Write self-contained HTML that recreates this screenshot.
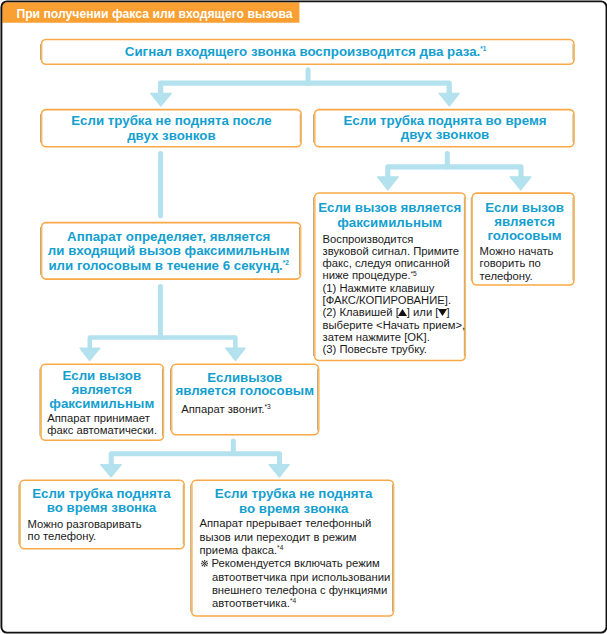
<!DOCTYPE html>
<html><head><meta charset="utf-8">
<style>
html,body{margin:0;padding:0;width:607px;height:634px;overflow:hidden;background:#fff}
body{position:relative;font-family:"Liberation Sans",sans-serif}
#main{position:absolute;left:0;top:0}
.t{position:absolute;white-space:nowrap}
.hd{position:absolute;left:16.4px;top:6.6px;color:#fff;font-weight:bold;font-size:12.2px;line-height:14px;white-space:nowrap}
.h{color:#14a0cf;font-weight:bold;font-size:13.3px;text-align:center}
.b{color:#1a1a1a;font-size:11.25px}
.s{font-size:6.6px;position:relative;top:-3.8px;line-height:0}
.tri{display:inline-block;width:8px;height:7px;position:relative}
.tri svg{position:absolute;left:-0.5px;top:0;width:9px;height:7px}
.ind{padding-left:12.4px}
.km{display:inline-block;width:7.2px;height:7px;margin-left:1.2px;margin-right:0.4px;vertical-align:0.5px}
.hs{font-size:6.5px;position:relative;top:-4.5px;line-height:0}
</style></head><body>
<svg id="main" width="607" height="634" viewBox="0 0 607 634">
<path d="M2.2 7 Q2.2 2.2 7 2.2 L299.4 2.2 L299.4 22.7 L2.2 22.7 Z" fill="#fa9f32"/>
<rect x="1.4" y="1.4" width="605.1" height="631.2" rx="5.5" fill="none" stroke="#111" stroke-width="1.9"/>
<g fill="none" stroke="#f9a847" stroke-width="1.55">
<rect x="41.5" y="39.5" width="532.5" height="24.8" rx="4.5"/>
<rect x="41.5" y="109.6" width="259.7" height="37.2" rx="4.5"/>
<rect x="314.6" y="109.6" width="259.4" height="37.2" rx="4.5"/>
<rect x="41.5" y="222.6" width="259" height="56.5" rx="4.5"/>
<rect x="314.6" y="193" width="150.7" height="167.5" rx="4.5"/>
<rect x="472.2" y="193.1" width="101.8" height="91.9" rx="4.5"/>
<rect x="40.9" y="364.2" width="122.5" height="76" rx="4.5"/>
<rect x="171.5" y="364.2" width="147.1" height="70.6" rx="4.5"/>
<rect x="19.9" y="480.2" width="164.3" height="68.5" rx="4.5"/>
<rect x="191.7" y="480.2" width="201.8" height="135.8" rx="4.5"/>
</g>
<g fill="none" stroke="#a59484" stroke-width="0.9"><path d="M40.55 44.0 V59.8"/><path d="M573.05 44.0 V59.8"/><path d="M40.55 114.1 V142.3"/><path d="M300.25 114.1 V142.3"/><path d="M313.65 114.1 V142.3"/><path d="M573.05 114.1 V142.3"/><path d="M40.55 227.1 V274.6"/><path d="M299.55 227.1 V274.6"/><path d="M313.65 197.5 V356.0"/><path d="M464.35 197.5 V356.0"/><path d="M471.25 197.6 V280.5"/><path d="M573.05 197.6 V280.5"/><path d="M39.95 368.7 V435.7"/><path d="M162.45 368.7 V435.7"/><path d="M170.55 368.7 V430.3"/><path d="M317.65 368.7 V430.3"/><path d="M18.95 484.7 V544.2"/><path d="M183.25 484.7 V544.2"/><path d="M190.75 484.7 V611.5"/><path d="M392.55 484.7 V611.5"/></g>
<g fill="none" stroke="#fbbd5c" stroke-width="1.4"><path d="M41.50 44.0 V59.8"/><path d="M574.00 44.0 V59.8"/><path d="M41.50 114.1 V142.3"/><path d="M301.20 114.1 V142.3"/><path d="M314.60 114.1 V142.3"/><path d="M574.00 114.1 V142.3"/><path d="M41.50 227.1 V274.6"/><path d="M300.50 227.1 V274.6"/><path d="M314.60 197.5 V356.0"/><path d="M465.30 197.5 V356.0"/><path d="M472.20 197.6 V280.5"/><path d="M574.00 197.6 V280.5"/><path d="M40.90 368.7 V435.7"/><path d="M163.40 368.7 V435.7"/><path d="M171.50 368.7 V430.3"/><path d="M318.60 368.7 V430.3"/><path d="M19.90 484.7 V544.2"/><path d="M184.20 484.7 V544.2"/><path d="M191.70 484.7 V611.5"/><path d="M393.50 484.7 V611.5"/></g>
<g fill="none" stroke="#b3e1ee" stroke-width="5" stroke-linejoin="round" stroke-linecap="butt">
<path d="M308.1 69.7 V83.2" stroke-linecap="round"/>
<path d="M160.6 94 V83.2 H449.2 V94" stroke-width="5.3"/>
<path d="M160.6 153.5 V215.8" stroke-linecap="round"/>
<path d="M447.3 153.6 V166.9" stroke-linecap="round"/>
<path d="M387.8 177 V166.9 H521 V177" stroke-width="5.1"/>
<path d="M160.4 286.4 V337.45" stroke-linecap="round"/>
<path d="M89.8 348 V337.45 H235.35 V348" stroke-width="4.5"/>
<path d="M233.3 441 V453.8" stroke-linecap="round"/>
<path d="M111.2 465 V453.8 H279.5 V465"/>
</g>
<g fill="#b3e1ee" stroke="#b3e1ee" stroke-width="1.2" stroke-linejoin="round">
<path d="M150.6 93.3 L171.4 93.3 L160.8 106 Z"/>
<path d="M439.1 93.3 L459.3 93.3 L449.4 106 Z"/>
<path d="M377.5 176.8 L398.3 176.8 L387.8 190 Z"/>
<path d="M510.1 176.8 L531.1 176.8 L520.8 190 Z"/>
<path d="M79.9 348.1 L100 348.1 L89.6 360.7 Z"/>
<path d="M225.5 348.1 L245.2 348.1 L235.5 360.7 Z"/>
<path d="M100.6 464.7 L121.3 464.7 L111 476.9 Z"/>
<path d="M269 464.7 L289.2 464.7 L279.4 477.1 Z"/>
</g>
</svg>
<div class="hd">При получении факса или входящего вызова</div>
<div class="t h" style="left:55.65px;top:44.80px;width:500px;line-height:14.2px">Сигнал входящего звонка воспроизводится два раза.<span class="hs">*1</span></div>
<div class="t h" style="left:42.40px;top:114.20px;width:258px;line-height:14.5px">Если трубка не поднята после<br>двух звонков</div>
<div class="t h" style="left:316.00px;top:113.80px;width:258px;line-height:14.5px">Если трубка поднята во время<br>двух звонков</div>
<div class="t h" style="left:39.70px;top:230.10px;width:258px;line-height:14.2px">Аппарат определяет, является<br>ли входящий вызов факсимильным<br>или голосовым в течение 6 секунд.<span class="hs">*2</span></div>
<div class="t h" style="left:309.70px;top:201.20px;width:160px;line-height:14.4px">Если вызов является<br>факсимильным</div>
<div class="t b" style="left:322.50px;top:232.50px;line-height:12.31px">Воспроизводится<br>звуковой сигнал. Примите<br>факс, следуя описанной<br>ниже процедуре.<span class="s">*5</span><br>(1) Нажмите клавишу<br>[ФАКС/КОПИРОВАНИЕ].<br>(2) Клавишей [<span class="tri"><svg viewBox="0 0 9 7"><path d="M4.5 0 L9 7 L0 7 Z" fill="#111"/></svg></span>] или [<span class="tri"><svg viewBox="0 0 9 7"><path d="M0 0 L9 0 L4.5 7 Z" fill="#111"/></svg></span>]<br>выберите &lt;Начать прием&gt;,<br>затем нажмите [OK].<br>(3) Повесьте трубку.</div>
<div class="t h" style="left:469.60px;top:200.80px;width:110px;line-height:14.3px">Если вызов<br>является<br>голосовым</div>
<div class="t b" style="left:479.60px;top:245.00px;line-height:12.3px">Можно начать<br>говорить по<br>телефону.</div>
<div class="t h" style="left:36.75px;top:368.90px;width:130px;line-height:14.3px">Если вызов<br>является<br>факсимильным</div>
<div class="t b" style="left:47.20px;top:411.60px;line-height:12.3px">Аппарат принимает<br>факс автоматически.</div>
<div class="t h" style="left:164.70px;top:370.60px;width:160px;line-height:13.6px">Есливызов<br>является голосовым</div>
<div class="t b" style="left:181.20px;top:402.80px;line-height:12.3px">Аппарат звонит.<span class="s">*3</span></div>
<div class="t h" style="left:16.40px;top:486.70px;width:170px;line-height:14.4px">Если трубка поднята<br>во время звонка</div>
<div class="t b" style="left:27.60px;top:519.40px;line-height:11.9px">Можно разговаривать<br>по телефону.</div>
<div class="t h" style="left:193.70px;top:487.40px;width:200px;line-height:14.6px">Если трубка не поднята<br>во время звонка</div>
<div class="t b" style="left:199.50px;top:517.20px;line-height:13.35px">Аппарат прерывает телефонный<br>вызов или переходит в режим<br>приема факса.<span class="s">*4</span><br><svg class="km" viewBox="0 0 7.2 7"><g stroke="#333" stroke-width="1.1"><path d="M0.8 0.8 L6.4 6.2 M6.4 0.8 L0.8 6.2"/></g><g fill="#333"><circle cx="3.6" cy="0.9" r="0.8"/><circle cx="3.6" cy="6.1" r="0.8"/><circle cx="0.8" cy="3.5" r="0.8"/><circle cx="6.4" cy="3.5" r="0.8"/></g></svg> Рекомендуется включать режим<br><span class="ind">автоответчика при использовании</span><br><span class="ind">внешнего телефона с функциями</span><br><span class="ind">автоответчика.<span class="s">*4</span></span></div>
</body></html>
